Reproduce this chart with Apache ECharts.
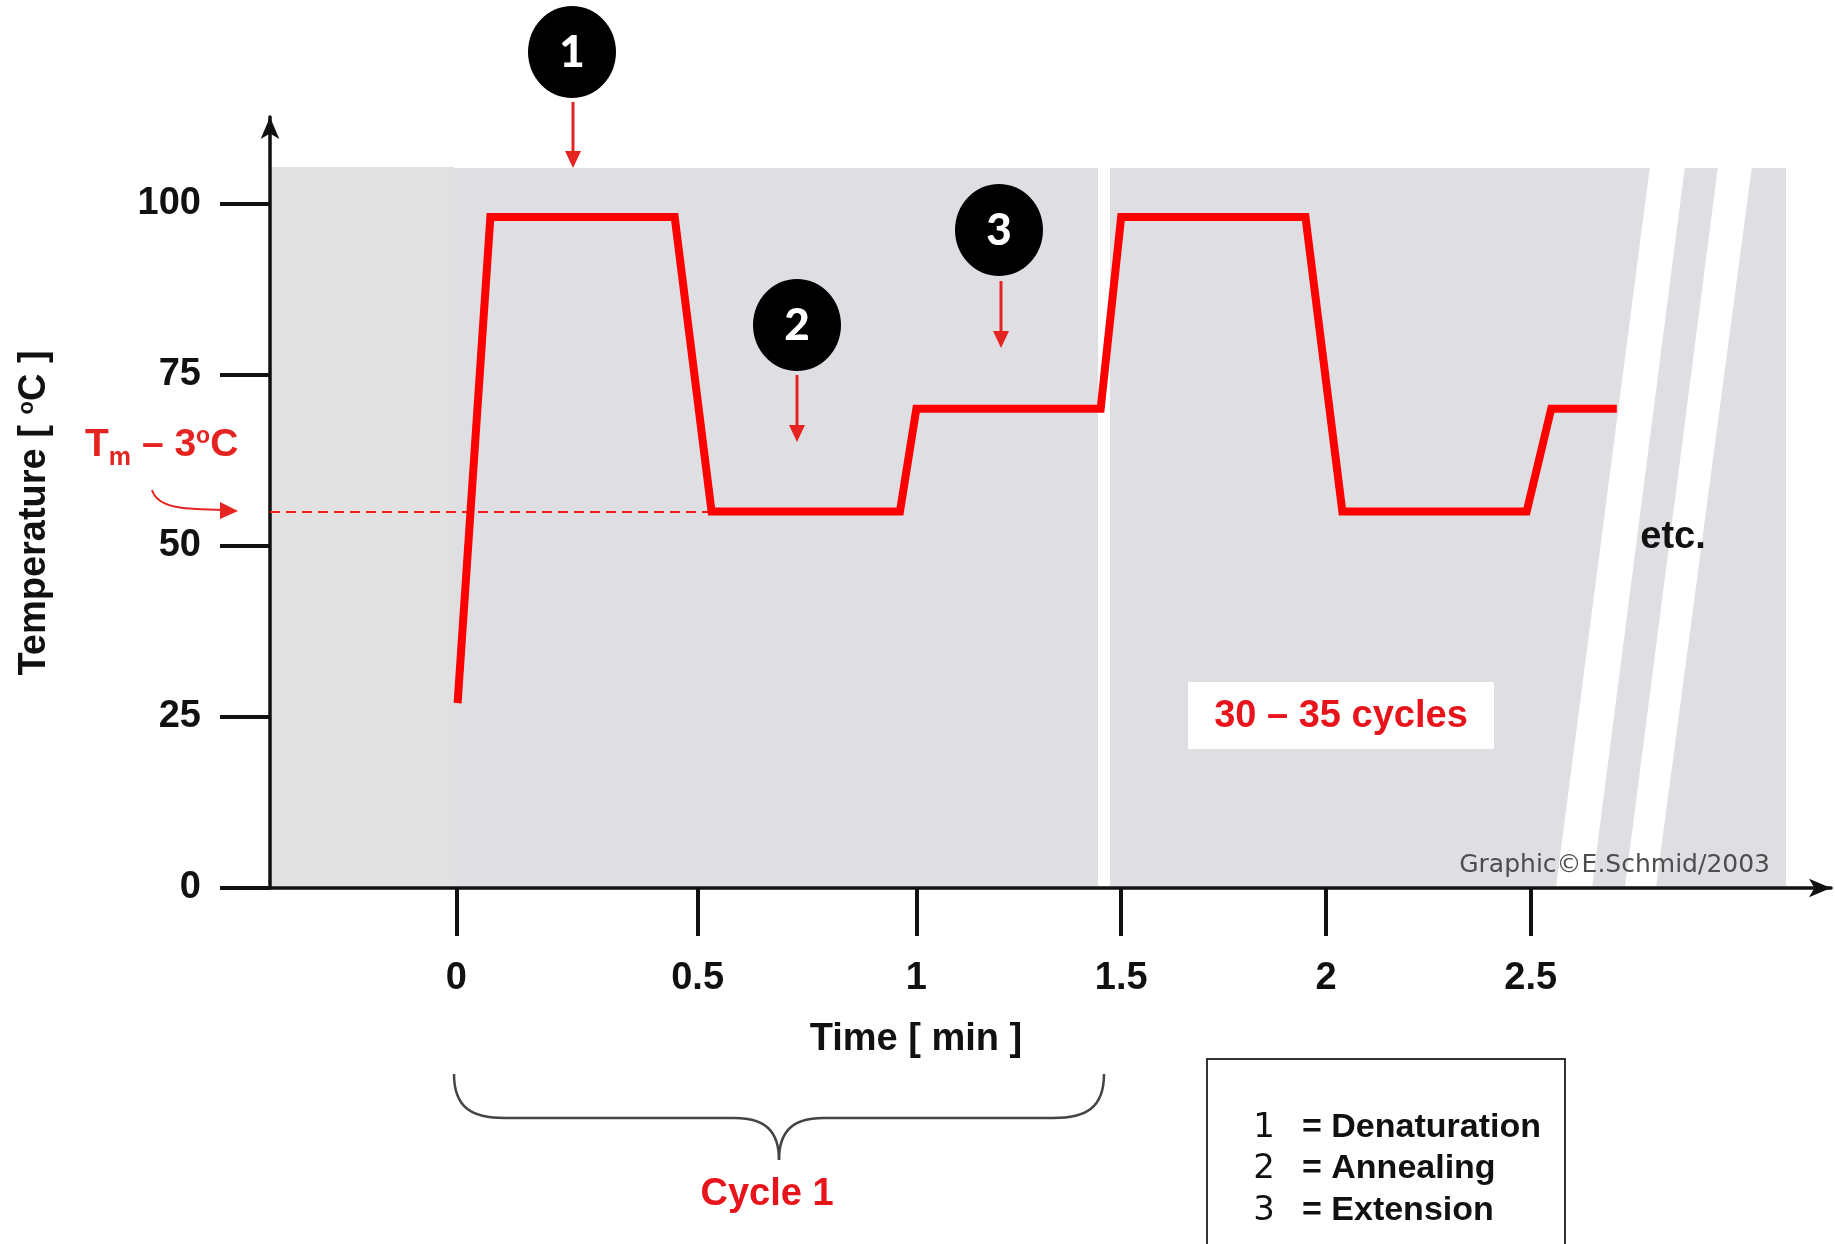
<!DOCTYPE html>
<html><head><meta charset="utf-8">
<script src="https://cdn.jsdelivr.net/npm/echarts@6/dist/echarts.min.js"></script>
<style>html,body{margin:0;padding:0;background:#fff}#c{width:1835px;height:1244px}</style>
</head><body><div id="c"></div>
<script>
// ---- data ----
const timeMin = [-0.12, -0.04, 0.41, 0.50, 0.96, 1.00, 1.45, 1.50, 1.95, 2.04, 2.49, 2.55, 2.71];
const tempC   = [27, 98, 98, 55, 55, 70, 70, 98, 98, 55, 55, 70, 70];
const yTicks = [0, 25, 50, 75, 100];
const xTickPos = [-0.123, 0.466, 1, 1.5, 2, 2.5];
const xTickLabels = ['0', '0.5', '1', '1.5', '2', '2.5'];
const tmLevel = 55;
const tmEndTime = 0.497;
const legendNums = ['1', '2', '3'];
const legendNames = ['= Denaturation', '= Annealing', '= Extension'];

const FF = "'Liberation Sans', Arial, sans-serif";
const RED = '#ff0000';
const X_MIN = -0.578, X_MAX = 3.233, Y_MAX = 112.6;

const chart = echarts.init(document.getElementById('c'), null, {renderer: 'canvas'});

function downArrow(x, y1, y2) {
  return [
    {type: 'line', z: 50, shape: {x1: x, y1: y1, x2: x, y2: y2 - 14}, style: {stroke: '#e52421', lineWidth: 3}},
    {type: 'polygon', z: 50, shape: {points: [[x - 8, y2 - 17], [x + 8, y2 - 17], [x, y2]]}, style: {fill: '#e52421'}}
  ];
}
function badge(cx, cy, label) {
  return [
    {type: 'ellipse', z: 50, shape: {cx: cx, cy: cy, rx: 44, ry: 46}, style: {fill: '#000'}},
    {type: 'text', z: 51, x: cx, y: cy + 1, style: {text: label, fill: '#fff', font: "900 44px Lato, 'Liberation Sans', sans-serif", align: 'center', verticalAlign: 'middle'}}
  ];
}
const gray = '#dfdee2';
let graphics = [
  // plot background
  {type: 'rect', z: -5, shape: {x: 270, y: 167, width: 184, height: 719}, style: {fill: '#e1e1e2'}},
  {type: 'rect', z: -5, shape: {x: 454, y: 168, width: 1332, height: 718}, style: {fill: gray}},
  {type: 'rect', z: -4, shape: {x: 1098, y: 164, width: 12, height: 724}, style: {fill: '#fff'}},
  {type: 'polygon', z: -4, shape: {points: [[1556, 887], [1592, 887], [1685, 166], [1650, 166]]}, style: {fill: '#fff'}},
  {type: 'polygon', z: -4, shape: {points: [[1625, 887], [1656, 887], [1752, 166], [1718, 166]]}, style: {fill: '#fff'}},
  // 30-35 cycles box
  {type: 'rect', z: 40, shape: {x: 1188, y: 682, width: 306, height: 67}, style: {fill: '#fff'}},
  {type: 'text', z: 41, x: 1341, y: 717, style: {text: '30 \u2013 35 cycles', fill: '#e8141b', font: 'bold 38px ' + FF, align: 'center', verticalAlign: 'middle'}},
  {type: 'text', z: 41, x: 1673, y: 538, style: {text: 'etc.', fill: '#111', font: 'bold 38px ' + FF, align: 'center', verticalAlign: 'middle'}},
  {type: 'text', z: 41, x: 1770, y: 865, style: {text: 'Graphic\u00A9E.Schmid/2003', fill: '#4d4d4d', font: "25px 'DejaVu Sans', Verdana, sans-serif", align: 'right', verticalAlign: 'middle'}},
  // Tm label
  {type: 'text', z: 41, x: 85, y: 445, style: {
    text: '{t|T}{sub|m}{t| \u2013 3}{sup|o}{t|C}', align: 'left', verticalAlign: 'middle',
    rich: {
      t: {fill: '#e52421', font: 'bold 39px ' + FF, lineHeight: 40, verticalAlign: 'middle'},
      sub: {fill: '#e52421', font: 'bold 25px ' + FF, lineHeight: 24, verticalAlign: 'bottom', padding: [0, 0, -6, 0]},
      sup: {fill: '#e52421', font: 'bold 23px ' + FF, lineHeight: 22, verticalAlign: 'top'}
    }}},
  {type: 'bezierCurve', z: 41, shape: {x1: 152, y1: 490, cpx1: 158, cpy1: 510, cpx2: 190, cpy2: 509, x2: 224, y2: 510}, style: {stroke: '#e52421', lineWidth: 2, fill: null}},
  {type: 'polygon', z: 41, shape: {points: [[220, 502], [238, 511], [220, 519]]}, style: {fill: '#e52421'}},
  // brace
  {type: 'bezierCurve', z: 41, shape: {x1: 454, y1: 1074, cpx1: 454, cpy1: 1108, cpx2: 472, cpy2: 1118, x2: 505, y2: 1118}, style: {stroke: '#444', lineWidth: 2.5, fill: null}},
  {type: 'line', z: 41, shape: {x1: 505, y1: 1118, x2: 735, y2: 1118}, style: {stroke: '#444', lineWidth: 2.5}},
  {type: 'bezierCurve', z: 41, shape: {x1: 735, y1: 1118, cpx1: 766, cpy1: 1118, cpx2: 779, cpy2: 1132, x2: 779, y2: 1160}, style: {stroke: '#444', lineWidth: 2.5, fill: null}},
  {type: 'bezierCurve', z: 41, shape: {x1: 779, y1: 1160, cpx1: 779, cpy1: 1132, cpx2: 792, cpy2: 1118, x2: 823, y2: 1118}, style: {stroke: '#444', lineWidth: 2.5, fill: null}},
  {type: 'line', z: 41, shape: {x1: 823, y1: 1118, x2: 1053, y2: 1118}, style: {stroke: '#444', lineWidth: 2.5}},
  {type: 'bezierCurve', z: 41, shape: {x1: 1053, y1: 1118, cpx1: 1086, cpy1: 1118, cpx2: 1104, cpy2: 1108, x2: 1104, y2: 1074}, style: {stroke: '#444', lineWidth: 2.5, fill: null}},
  {type: 'text', z: 41, x: 767, y: 1195, style: {text: 'Cycle 1', fill: '#e8141b', font: 'bold 38px ' + FF, align: 'center', verticalAlign: 'middle'}},
  // legend box
  {type: 'rect', z: 41, shape: {x: 1207, y: 1059, width: 358, height: 200}, style: {fill: '#fff', stroke: '#333', lineWidth: 2}}
];
const legY = [1128, 1169, 1211];
legendNums.forEach((n, i) => {
  graphics.push({type: 'text', z: 42, x: 1264, y: legY[i], style: {text: n, fill: '#111', font: "34px 'Liberation Sans Narrow', 'DejaVu Sans', sans-serif", align: 'center', verticalAlign: 'middle'}});
  graphics.push({type: 'text', z: 42, x: 1302, y: legY[i], style: {text: legendNames[i], fill: '#111', font: 'bold 34px ' + FF, align: 'left', verticalAlign: 'middle'}});
});
graphics = graphics.concat(downArrow(573, 102, 168), downArrow(797, 375, 442), downArrow(1001, 281, 348));
graphics = graphics.concat(badge(572, 52, '1'), badge(797, 325, '2'), badge(999, 230, '3'));

chart.setOption({
  animation: false,
  backgroundColor: '#fff',
  grid: {left: 270, right: 4, top: 117, bottom: 356, containLabel: false},
  xAxis: {
    type: 'value', min: X_MIN, max: X_MAX,
    name: 'Time [ min ]', nameLocation: 'middle', nameGap: 133,
    nameTextStyle: {color: '#111', fontFamily: FF, fontWeight: 'bold', fontSize: 38, padding: [0, 269, 0, 0]},
    axisLine: {show: true, onZero: false, symbol: ['none', 'arrow'], symbolSize: [14, 22], lineStyle: {color: '#111', width: 3.5}},
    axisTick: {show: true, inside: false, length: 48, customValues: xTickPos, lineStyle: {color: '#111', width: 4}},
    axisLabel: {show: true, customValues: xTickPos, margin: 72, color: '#111', fontFamily: FF, fontWeight: 'bold', fontSize: 38,
      formatter: v => { let b = 0; xTickPos.forEach((p, i) => { if (Math.abs(p - v) < Math.abs(xTickPos[b] - v)) b = i; }); return xTickLabels[b]; }},
    splitLine: {show: false}
  },
  yAxis: {
    type: 'value', min: 0, max: Y_MAX,
    name: 'Temperature [ {sup|o}C ]', nameLocation: 'middle', nameRotate: 90, nameGap: 216,
    nameTextStyle: {color: '#111', fontFamily: FF, fontWeight: 'bold', fontSize: 38, padding: [0, 21, 0, 0],
      rich: {sup: {fontFamily: FF, fontWeight: 'bold', fontSize: 22, verticalAlign: 'top', color: '#111'}}},
    axisLine: {show: true, onZero: false, symbol: ['none', 'arrow'], symbolSize: [14, 22], lineStyle: {color: '#111', width: 3.5}},
    axisTick: {show: true, inside: false, length: 50, customValues: yTicks, lineStyle: {color: '#111', width: 4}},
    axisLabel: {show: true, customValues: yTicks, margin: 69, color: '#111', fontFamily: FF, fontWeight: 'bold', fontSize: 38},
    splitLine: {show: false}
  },
  series: [{
    type: 'line', z: 10,
    data: timeMin.map((t, i) => [t, tempC[i]]),
    showSymbol: false, symbol: 'none', clip: false,
    lineStyle: {color: RED, width: 8, join: 'miter'},
    markLine: {
      silent: true, symbol: ['none', 'none'], z: 9,
      lineStyle: {color: '#f21d1d', width: 2, type: [10, 6]},
      label: {show: false},
      data: [[{coord: [X_MIN, tmLevel]}, {coord: [tmEndTime, tmLevel]}]]
    }
  }],
  graphic: graphics
});
</script></body></html>
